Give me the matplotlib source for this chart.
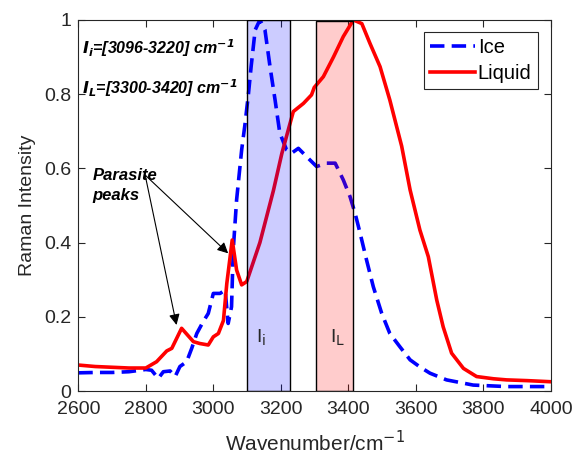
import numpy as np
import matplotlib
matplotlib.use('Agg')
import matplotlib.pyplot as plt
from matplotlib.patches import Rectangle

plt.rcParams['font.family'] = ['Liberation Sans', 'DejaVu Sans']

# Liquid spectrum
liq_x = [2600, 2650, 2700, 2750, 2800, 2832, 2862, 2877, 2906, 2941, 2960, 2985,
         3000, 3015, 3030, 3040, 3056, 3069, 3084, 3099, 3138, 3178, 3203, 3227,
         3237, 3267, 3291, 3299, 3326, 3356, 3385, 3415, 3440, 3464, 3494, 3523,
         3558, 3583, 3612, 3637, 3662, 3681, 3706, 3741, 3780, 3830, 3869, 3930, 4000]
liq_y = [0.070, 0.066, 0.064, 0.062, 0.062, 0.079, 0.108, 0.115, 0.169, 0.133, 0.128, 0.124,
         0.146, 0.155, 0.190, 0.290, 0.407, 0.326, 0.286, 0.295, 0.400, 0.540, 0.640, 0.720,
         0.753, 0.775, 0.798, 0.818, 0.847, 0.900, 0.955, 1.000, 0.990, 0.937, 0.874, 0.784,
         0.660, 0.542, 0.434, 0.362, 0.245, 0.173, 0.102, 0.061, 0.039, 0.033, 0.030, 0.028, 0.025]

# Ice spectrum
ice_x = [2600, 2650, 2700, 2750, 2800, 2817, 2837, 2852, 2872, 2887, 2901, 2921,
         2936, 2951, 2970, 2985, 3000, 3020, 3035, 3044, 3054, 3059, 3069, 3084,
         3094, 3104, 3112, 3124, 3138, 3153, 3168, 3183, 3197, 3217, 3232, 3252, 3277,
         3306, 3336, 3361, 3385, 3405, 3420, 3435, 3454, 3474, 3499, 3523, 3553,
         3583, 3612, 3642, 3691, 3770, 3869, 4000]
ice_y = [0.049, 0.050, 0.050, 0.052, 0.058, 0.056, 0.034, 0.052, 0.054, 0.039, 0.066, 0.079,
         0.115, 0.155, 0.187, 0.209, 0.263, 0.263, 0.272, 0.182, 0.227, 0.380, 0.515, 0.650,
         0.720, 0.800, 0.874, 0.973, 1.000, 0.973, 0.874, 0.784, 0.695, 0.650, 0.641, 0.654, 0.631,
         0.605, 0.614, 0.614, 0.569, 0.524, 0.479, 0.425, 0.353, 0.281, 0.209, 0.155, 0.119,
         0.084, 0.065, 0.048, 0.030, 0.016, 0.012, 0.012]

band_i = (3100, 3228)
band_l = (3305, 3415)

fig = plt.figure(figsize=(5.87, 4.61), dpi=100)
ax = fig.add_axes([0.1334, 0.1518, 0.805, 0.805])

ax.plot(ice_x, ice_y, color='b', lw=2.6, ls=(0, (4, 2)), label='Ice', zorder=2)
ax.plot(liq_x, liq_y, color='r', lw=2.6, ls='-', label='Liquid', zorder=2)

ax.add_patch(Rectangle((band_i[0], 0), band_i[1] - band_i[0], 1.0,
                       facecolor=(0, 0, 1, 0.2), edgecolor='k', lw=1, zorder=3))
ax.add_patch(Rectangle((band_l[0], 0), band_l[1] - band_l[0], 0.997,
                       facecolor=(1, 0, 0, 0.2), edgecolor='k', lw=1, zorder=3))

ax.text(3127, 0.13, r'I$_{\rm i}$', fontsize=14, ha='left', color='#262626', zorder=4)
ax.text(3345, 0.13, r'I$_{\rm L}$', fontsize=14, ha='left', color='#262626', zorder=4)

ax.text(2610, 0.925, r'$\mathbfit{I_i}$=[3096-3220] cm$^{\mathbfit{-1}}$',
        fontsize=11.5, fontweight='bold', style='italic', va='center')
ax.text(2610, 0.817, r'$\mathbfit{I_L}$=[3300-3420] cm$^{\mathbfit{-1}}$',
        fontsize=11.5, fontweight='bold', style='italic', va='center')
ax.text(2642, 0.553, 'Parasite\npeaks', fontsize=12, fontweight='bold',
        style='italic', va='center', linespacing=1.4)

for tgt in [(2891, 0.178), (3044, 0.371)]:
    ax.annotate('', xy=tgt, xytext=(2798, 0.582),
                arrowprops=dict(arrowstyle='-|>', color='k', lw=0.8,
                                mutation_scale=16, shrinkA=0, shrinkB=0))

ax.set_xlim(2600, 4000)
ax.set_ylim(0, 1)
ax.set_xticks(np.arange(2600, 4001, 200))
ax.set_yticks([0, 0.2, 0.4, 0.6, 0.8, 1])
ax.set_yticklabels(['0', '0.2', '0.4', '0.6', '0.8', '1'])
ax.tick_params(direction='in', top=True, right=True, labelsize=14,
               colors='#262626', length=5, width=0.8, pad=5)
ax.tick_params(axis='x', pad=7)
for s in ax.spines.values():
    s.set_color('#262626')
    s.set_linewidth(0.8)

ax.set_xlabel(r'Wavenumber/cm$^{-1}$', fontsize=15, color='#262626', labelpad=9)
ax.set_ylabel('Raman Intensity', fontsize=14, color='#262626', labelpad=6)

leg = ax.legend(loc='upper right', bbox_to_anchor=(0.972, 0.967), fontsize=14.5,
                fancybox=False, edgecolor='#262626', framealpha=1,
                handlelength=2.2, borderpad=0.3, labelspacing=0.35,
                handletextpad=0.15, borderaxespad=0.0)
leg.get_frame().set_linewidth(0.8)

fig.savefig('out.png', dpi=100)
